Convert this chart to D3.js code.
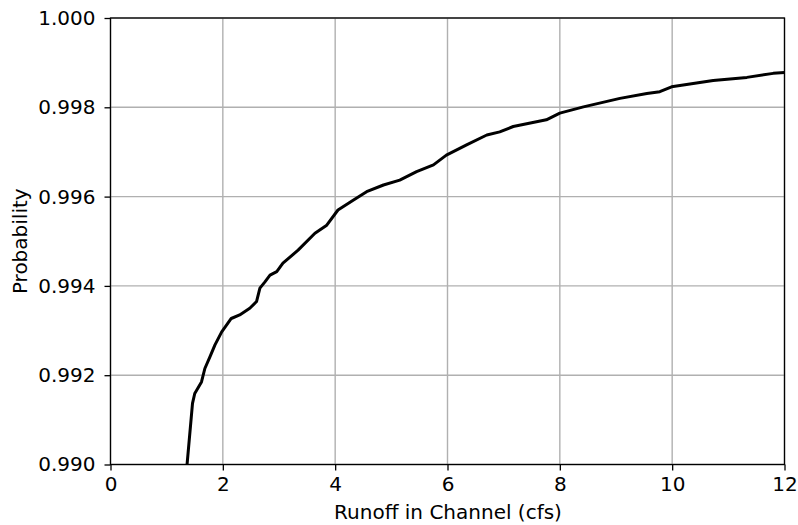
<!DOCTYPE html>
<html>
<head>
<meta charset="utf-8">
<script src="https://cdn.jsdelivr.net/npm/d3@7"></script>
<style>
  body { margin: 0; background: #fff; }
  svg { display: block; font-family: "DejaVu Sans", sans-serif; }
</style>
</head>
<body>
<svg id="chart" width="798" height="525"></svg>
<script>
// Exceedance curve: runoff (cfs) vs. cumulative probability
const runoff = [1.363, 1.46, 1.50, 1.62, 1.68, 1.77, 1.86, 1.98, 2.15, 2.30, 2.48, 2.60, 2.66, 2.75, 2.84, 2.96, 3.07, 3.34,
  3.64, 3.85, 4.05, 4.32, 4.56, 4.86, 5.15, 5.45, 5.75, 5.98, 6.34, 6.70, 6.93, 7.17, 7.76, 8.00, 8.42, 9.07, 9.55, 9.78,
  9.99, 10.73, 11.33, 11.80, 12.0];
const probability = [0.99000, 0.99137, 0.99159, 0.99185, 0.99215, 0.99241, 0.99268, 0.99297, 0.99327, 0.99335, 0.99350,
  0.99365, 0.99395, 0.99409, 0.99424, 0.99432, 0.99451, 0.99480, 0.99518, 0.99536, 0.99570, 0.99592, 0.99611, 0.99626,
  0.99637, 0.99656, 0.99671, 0.99693, 0.99716, 0.99738, 0.99745, 0.99757, 0.99772, 0.99787, 0.99801, 0.99820, 0.99831,
  0.99835, 0.99846, 0.99860, 0.99867, 0.99876, 0.99878];
const xTicks = [0, 2, 4, 6, 8, 10, 12];
const yTicks = [0.990, 0.992, 0.994, 0.996, 0.998, 1.000];

const svg = d3.select("#chart");
const m = { left: 110.5, right: 784.5, top: 18, bottom: 464.5 };
const fs = 20;

const x = d3.scaleLinear().domain([0, 12]).range([m.left, m.right]);
const y = d3.scaleLinear().domain([0.990, 1.000]).range([m.bottom, m.top]);

// grid
const grid = svg.append("g").attr("stroke", "#b0b0b0").attr("stroke-width", 1.4);
grid.selectAll(".gx").data(xTicks).join("line")
  .attr("x1", d => x(d)).attr("x2", d => x(d)).attr("y1", m.top).attr("y2", m.bottom);
grid.selectAll(".gy").data(yTicks).join("line")
  .attr("y1", d => y(d)).attr("y2", d => y(d)).attr("x1", m.left).attr("x2", m.right);

// data curve
const pts = runoff.map((r, i) => [r, probability[i]]);
svg.append("path").datum(pts)
  .attr("fill", "none").attr("stroke", "#000").attr("stroke-width", 3)
  .attr("stroke-linejoin", "round")
  .attr("d", d3.line().x(d => x(d[0])).y(d => y(d[1])));

// axes
const xAxis = svg.append("g").attr("transform", `translate(0,${m.bottom})`)
  .call(d3.axisBottom(x).tickValues(xTicks).tickFormat(d3.format("d")).tickSize(6).tickPadding(6.5));
const yAxis = svg.append("g").attr("transform", `translate(${m.left},0)`)
  .call(d3.axisLeft(y).tickValues(yTicks).tickFormat(d3.format(".3f")).tickSize(6).tickPadding(9));
[xAxis, yAxis].forEach(a => {
  a.select(".domain").remove();
  a.selectAll(".tick line").attr("stroke", "#000").attr("stroke-width", 1.3);
  a.selectAll(".tick text").attr("font-size", fs).attr("fill", "#000").attr("font-family", "DejaVu Sans");
});

// frame
svg.append("rect").attr("x", m.left).attr("y", m.top)
  .attr("width", m.right - m.left).attr("height", m.bottom - m.top)
  .attr("fill", "none").attr("stroke", "#000").attr("stroke-width", 1.3);

// labels
svg.append("text").attr("x", (m.left + m.right) / 2 + 0.5).attr("y", 519)
  .attr("text-anchor", "middle").attr("font-size", fs).text("Runoff in Channel (cfs)");
svg.append("text").attr("transform", `translate(27,${(m.top + m.bottom) / 2}) rotate(-90)`)
  .attr("text-anchor", "middle").attr("font-size", fs).text("Probability");
</script>
</body>
</html>
